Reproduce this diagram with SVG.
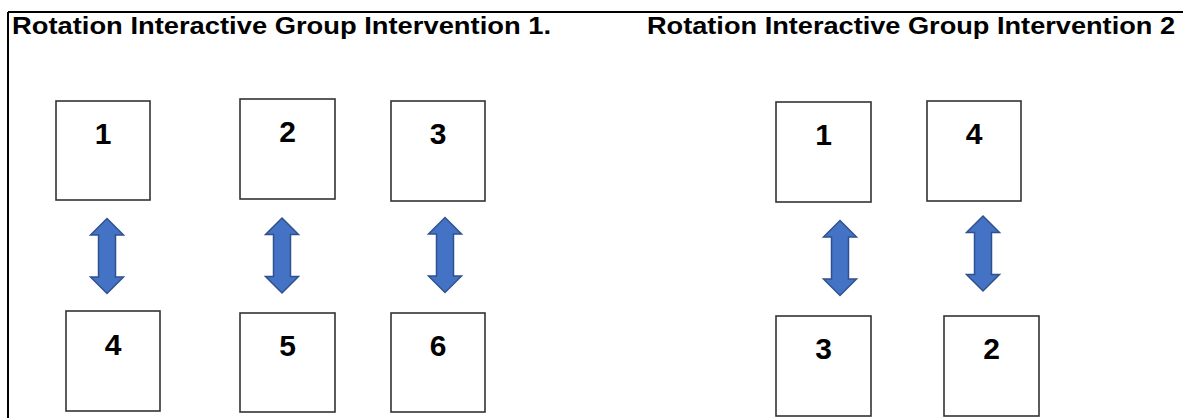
<svg xmlns="http://www.w3.org/2000/svg" width="1183" height="418" viewBox="0 0 1183 418">
  <style>
    .title { font-family: "Liberation Sans", Arial, sans-serif; font-weight: bold; font-size: 23px; fill: #000; }
    .box { fill: #fff; stroke: #333; stroke-width: 1.6; }
    .num { font-family: "Liberation Sans", Arial, sans-serif; font-weight: bold; font-size: 30px; fill: #000; text-anchor: middle; }
    .dbl { fill: #4472C4; stroke: #2F528F; stroke-width: 1.5; stroke-linejoin: miter; }
  </style>
  <defs>
    <!-- vertical double-headed block arrow, centred on the origin -->
    <path id="dblArrow" d="M0,-37.5 L16.5,-21 L8.5,-21 L8.5,21 L16.5,21 L0,37.5 L-16.5,21 L-8.5,21 L-8.5,-21 L-16.5,-21 Z"/>
  </defs>

  <rect width="1183" height="418" fill="#fff"/>

  <!-- frame -->
  <g id="frame" stroke="#000" stroke-width="2" fill="none">
    <line x1="8" y1="12" x2="1183" y2="12"/>
    <line x1="8" y1="12" x2="8" y2="418"/>
  </g>

  <text class="title" x="12" y="34" textLength="539" lengthAdjust="spacingAndGlyphs">Rotation Interactive Group Intervention 1.</text>
  <text class="title" x="647" y="34" textLength="528" lengthAdjust="spacingAndGlyphs">Rotation Interactive Group Intervention 2</text>

  <!-- intervention 1 -->
  <g id="g1-box1"><rect class="box" x="56" y="101" width="94" height="99"/><text class="num" x="103" y="144">1</text></g>
  <g id="g1-box2"><rect class="box" x="240" y="99" width="95" height="100"/><text class="num" x="287.5" y="142">2</text></g>
  <g id="g1-box3"><rect class="box" x="391" y="101" width="94" height="100"/><text class="num" x="438" y="144">3</text></g>
  <g id="g1-box4"><rect class="box" x="66" y="311" width="94" height="100"/><text class="num" x="113" y="355">4</text></g>
  <g id="g1-box5"><rect class="box" x="240" y="313" width="95" height="99"/><text class="num" x="287.5" y="356">5</text></g>
  <g id="g1-box6"><rect class="box" x="391" y="313" width="94" height="99"/><text class="num" x="438" y="356">6</text></g>

  <!-- intervention 2 -->
  <g id="g2-box1"><rect class="box" x="776" y="102" width="95" height="100"/><text class="num" x="823.5" y="145">1</text></g>
  <g id="g2-box4"><rect class="box" x="927" y="101" width="94" height="100"/><text class="num" x="974" y="144">4</text></g>
  <g id="g2-box3"><rect class="box" x="776" y="316" width="95" height="100"/><text class="num" x="823.5" y="359">3</text></g>
  <g id="g2-box2"><rect class="box" x="944" y="316" width="95" height="100"/><text class="num" x="991.5" y="359">2</text></g>

  <!-- connectors -->
  <g id="connectors">
    <use href="#dblArrow" class="dbl" x="107" y="256"/>
    <use href="#dblArrow" class="dbl" x="282" y="255.5"/>
    <use href="#dblArrow" class="dbl" x="445" y="255"/>
    <use href="#dblArrow" class="dbl" x="840" y="258"/>
    <use href="#dblArrow" class="dbl" x="983" y="253.5"/>
  </g>
</svg>
